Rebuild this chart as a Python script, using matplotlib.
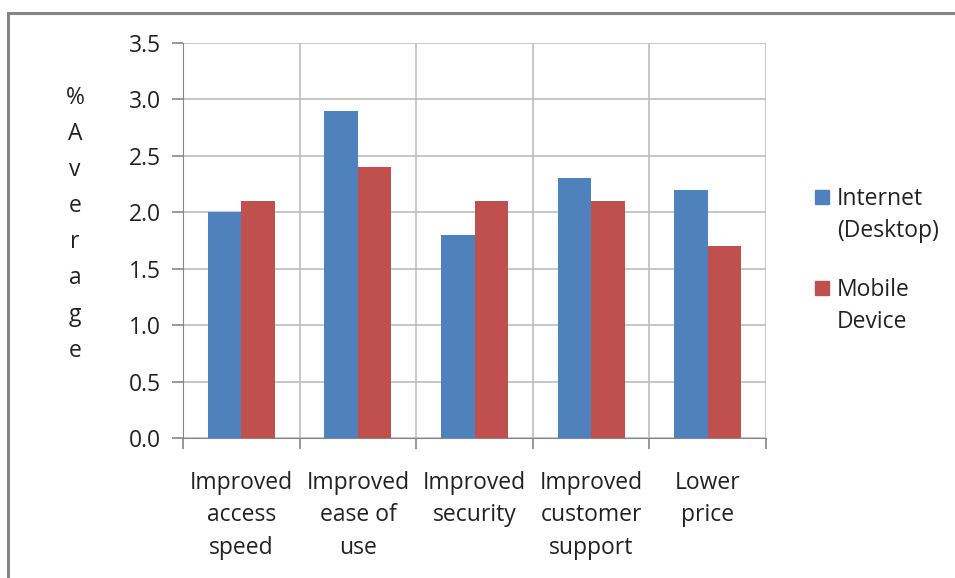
import matplotlib.pyplot as plt
import numpy as np
from matplotlib.patches import Rectangle

plt.rcParams['font.family'] = ['Open Sans', 'DejaVu Sans']

categories = ["Improved\naccess\nspeed", "Improved\nease of\nuse", "Improved\nsecurity",
              "Improved\ncustomer\nsupport", "Lower\nprice"]
desktop = [2.0, 2.9, 1.8, 2.3, 2.2]
mobile = [2.1, 2.4, 2.1, 2.1, 1.7]
series_names = ["Internet\n(Desktop)", "Mobile\nDevice"]
yticks = [0.0, 0.5, 1.0, 1.5, 2.0, 2.5, 3.0, 3.5]

blue = "#4F81BD"
red = "#C0504D"
grid = "#BEBEBE"
txt = "#222222"
fs = 16.5

fig = plt.figure(figsize=(9.55, 5.78), dpi=100)
W, H = 955, 578
ax = fig.add_axes([183 / W, 1 - 438 / H, (766 - 183) / W, (438 - 43) / H])

# outer chart frame (right and bottom edges run off the image)
fig.patches.append(Rectangle((8 / W, -0.05), 1.1, 1 - 13 / H + 0.05, transform=fig.transFigure,
                             fill=False, edgecolor="#868686", linewidth=2.2))

x = np.arange(len(categories))
bw = 0.288
ax.bar(x - bw / 2, desktop, bw, color=blue, zorder=3)
ax.bar(x + bw / 2, mobile, bw, color=red, zorder=3)

ax.set_xlim(-0.5, len(categories) - 0.5)
ax.set_ylim(0, 3.5)
ax.set_yticks(yticks)
ax.set_yticklabels([f"{t:.1f}" for t in yticks])

# vertical lines at category boundaries, horizontal at y ticks
for b in np.arange(-0.5, len(categories), 1.0):
    ax.axvline(b, color=grid, linewidth=1.2, zorder=1)
for t in yticks:
    ax.axhline(t, color=grid, linewidth=1.2, zorder=1)

ax.set_xticks(np.arange(-0.5, len(categories), 1.0))
ax.set_xticklabels([])
ax.set_xticks(x, minor=True)
ax.set_xticklabels(categories, minor=True, fontsize=fs, color=txt, linespacing=1.45)
ax.tick_params(axis="x", which="minor", length=0, pad=24)
ax.tick_params(axis="x", which="major", length=8, color="#868686", width=1.2)
ax.tick_params(axis="y", length=8, color="#868686", width=1.2, labelsize=fs,
               labelcolor=txt, pad=8)
for s in ax.spines.values():
    s.set_visible(False)
ax.spines["left"].set_visible(True)
ax.spines["left"].set_color("#868686")
ax.spines["bottom"].set_visible(True)
ax.spines["bottom"].set_color("#868686")

# stacked-letter axis title
ylabel = "%Average"
for i, ch in enumerate(ylabel):
    fig.text(75 / W, 1 - (98 + 36.1 * i) / H, ch, fontsize=fs, color=txt,
             ha="center", va="center")

# legend
for (name, col), ly in zip(zip(series_names, [blue, red]), [197, 288]):
    fig.patches.append(Rectangle((815 / W, 1 - (ly + 7) / H), 14 / W, 14 / H,
                                 transform=fig.transFigure, color=col))
    fig.text(837 / W, 1 - (ly - 10) / H, name, fontsize=fs, color=txt,
             ha="left", va="top", linespacing=1.45)

fig.savefig("out.png", dpi=100)
